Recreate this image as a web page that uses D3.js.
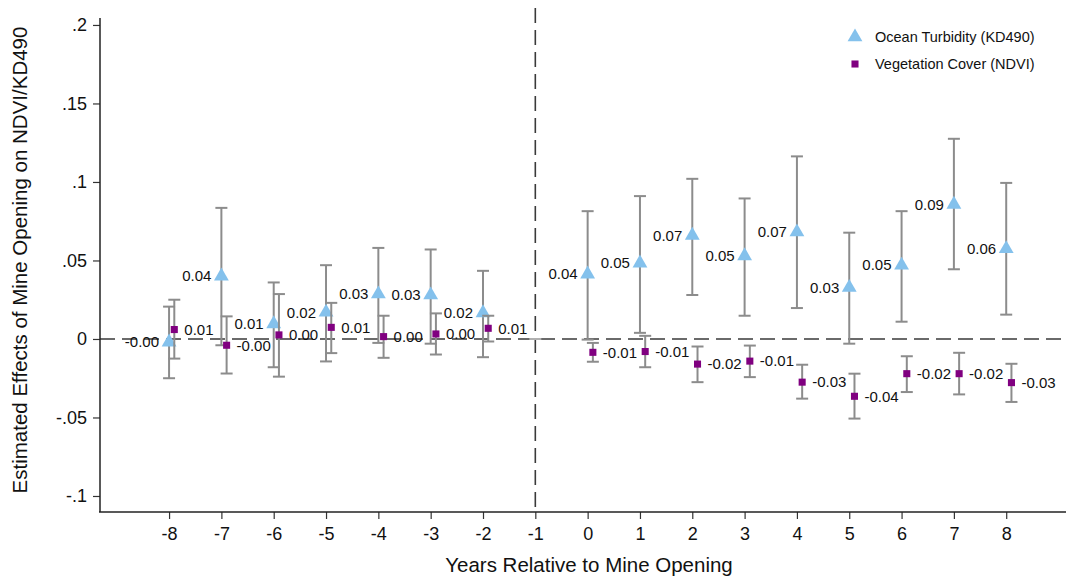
<!DOCTYPE html>
<html>
<head>
<meta charset="UTF-8">
<style>
  body { margin: 0; background: #fff; }
  svg { display: block; font-family: "Liberation Sans", Arial, sans-serif; }
</style>
</head>
<body>
<svg id="chart" width="1066" height="578"></svg>
<script src="https://cdn.jsdelivr.net/npm/d3@7"></script>
<script>
// years shown on the axis, and the ones that carry an estimate (-1 is the base year)
const xTicks = [-8, -7, -6, -5, -4, -3, -2, -1, 0, 1, 2, 3, 4, 5, 6, 7, 8];
const years  = [-8, -7, -6, -5, -4, -3, -2, 0, 1, 2, 3, 4, 5, 6, 7, 8];
const baseYear = -1;

// Ocean Turbidity (KD490)
const kdEst = [-0.002, 0.040, 0.0096, 0.017, 0.0286, 0.028, 0.0166, 0.0413, 0.0483, 0.066, 0.0529, 0.0681, 0.0328, 0.047, 0.0857, 0.0575];
const kdLo  = [-0.025, -0.004, -0.018, -0.0143, -0.0025, -0.003, -0.0116, -0.0004, 0.0039, 0.028, 0.0148, 0.0197, -0.003, 0.011, 0.0444, 0.0155];
const kdHi  = [0.0206, 0.0835, 0.036, 0.047, 0.058, 0.057, 0.0434, 0.0814, 0.091, 0.102, 0.0895, 0.1163, 0.0677, 0.0814, 0.1275, 0.0994];

// Vegetation Cover (NDVI)
const ndEst = [0.006, -0.004, 0.0026, 0.0074, 0.0015, 0.0032, 0.0068, -0.0085, -0.008, -0.016, -0.0141, -0.0275, -0.0365, -0.0221, -0.0221, -0.0278];
const ndLo  = [-0.0125, -0.022, -0.024, -0.009, -0.012, -0.0099, -0.0016, -0.0145, -0.018, -0.0275, -0.0243, -0.038, -0.0507, -0.0338, -0.0353, -0.0401];
const ndHi  = [0.025, 0.0144, 0.0286, 0.023, 0.0148, 0.0163, 0.0148, -0.0025, 0.002, -0.0048, -0.0042, -0.0164, -0.0221, -0.011, -0.0088, -0.0158];

const yTicks = [-0.1, -0.05, 0, 0.05, 0.1, 0.15, 0.2];
const yTickLabels = ["-.1", "-.05", "0", ".05", ".1", ".15", ".2"];

const legendNames = ["Ocean Turbidity (KD490)", "Vegetation Cover (NDVI)"];

const blue = "#84c1ec", purple = "#800080", barGrey = "#8c8c8c", lineGrey = "#3a3a3a";

const svg = d3.select("#chart");
const plotL = 100, plotR = 1069, plotT = 8, plotB = 512;

const x = d3.scaleLinear().domain([-9.32, 9.2]).range([plotL, plotR]);
const y = d3.scaleLinear().domain([-0.1102, 0.2108]).range([plotB, plotT]);

// reference lines
svg.append("line")
  .attr("x1", plotL).attr("x2", 1066)
  .attr("y1", y(0)).attr("y2", y(0))
  .attr("stroke", lineGrey).attr("stroke-width", 1.6)
  .attr("stroke-dasharray", "15,7");
svg.append("line")
  .attr("x1", x(baseYear)).attr("x2", x(baseYear))
  .attr("y1", plotT).attr("y2", plotB)
  .attr("stroke", lineGrey).attr("stroke-width", 1.6)
  .attr("stroke-dasharray", "15,7");

// axes
const yAxis = svg.append("g")
  .attr("transform", `translate(${plotL},0)`)
  .call(d3.axisLeft(y).tickValues(yTicks).tickSize(7).tickPadding(6)
    .tickFormat((d, i) => yTickLabels[i]));
yAxis.select(".domain").remove();
yAxis.selectAll(".tick line").attr("stroke", "#333").attr("stroke-width", 1.2);
yAxis.selectAll(".tick text").attr("font-size", 18).attr("fill", "#111")
  .attr("font-family", "Liberation Sans, Arial, sans-serif");
svg.append("line").attr("x1", plotL).attr("x2", plotL).attr("y1", 18).attr("y2", plotB)
  .attr("stroke", "#222").attr("stroke-width", 1.5);

const xAxis = svg.append("g")
  .attr("transform", `translate(0,${plotB})`)
  .call(d3.axisBottom(x).tickValues(xTicks).tickSize(7).tickPadding(8).tickFormat(d => String(d)));
xAxis.select(".domain").remove();
xAxis.selectAll(".tick line").attr("stroke", "#333").attr("stroke-width", 1.2);
xAxis.selectAll(".tick text").attr("font-size", 18).attr("fill", "#111")
  .attr("font-family", "Liberation Sans, Arial, sans-serif");
svg.append("line").attr("x1", plotL - 1).attr("x2", 1066).attr("y1", plotB).attr("y2", plotB)
  .attr("stroke", "#222").attr("stroke-width", 1.5);

// axis titles
svg.append("text")
  .attr("x", 589).attr("y", 572)
  .attr("text-anchor", "middle").attr("font-size", 20.5).attr("fill", "#111")
  .text("Years Relative to Mine Opening");
svg.append("text")
  .attr("transform", "translate(27,260) rotate(-90)")
  .attr("text-anchor", "middle").attr("font-size", 20.5).attr("fill", "#111")
  .text("Estimated Effects of Mine Opening on NDVI/KD490");

// series
const series = [
  { est: kdEst, lo: kdLo, hi: kdHi, off: 0, color: blue, shape: d3.symbolTriangle, size: 95, side: -1 },
  { est: ndEst, lo: ndLo, hi: ndHi, off: 0.1, color: purple, shape: d3.symbolSquare, size: 50, side: 1 }
];

// base-year cap at zero
svg.append("line")
  .attr("x1", x(baseYear) - 6).attr("x2", x(baseYear) + 6)
  .attr("y1", y(0)).attr("y2", y(0))
  .attr("stroke", "#b0b0b0").attr("stroke-width", 2);

series.forEach(s => {
  const g = svg.append("g");
  const rows = years.map((yr, i) => ({ x: x(yr + s.off), est: s.est[i], lo: s.lo[i], hi: s.hi[i] }));
  g.selectAll(".bar").data(rows).join("line")
    .attr("x1", d => d.x).attr("x2", d => d.x)
    .attr("y1", d => y(d.lo)).attr("y2", d => y(d.hi))
    .attr("stroke", barGrey).attr("stroke-width", 2);
  ["lo", "hi"].forEach(k => {
    g.selectAll(".cap-" + k).data(rows).join("line")
      .attr("x1", d => d.x - 6).attr("x2", d => d.x + 6)
      .attr("y1", d => y(d[k])).attr("y2", d => y(d[k]))
      .attr("stroke", barGrey).attr("stroke-width", 2);
  });
  g.selectAll(".mark").data(rows).join("path")
    .attr("transform", d => `translate(${d.x},${y(d.est)})`)
    .attr("d", d3.symbol().type(s.shape).size(s.size))
    .attr("fill", s.color);
  g.selectAll(".lab").data(rows).join("text")
    .attr("x", d => d.x + s.side * 10)
    .attr("y", d => y(d.est))
    .attr("dy", "0.35em")
    .attr("text-anchor", s.side < 0 ? "end" : "start")
    .attr("font-size", 15).attr("fill", "#111")
    .text(d => d.est.toFixed(2));
});

// legend
const legend = svg.append("g");
series.forEach((s, i) => {
  const ly = 37 + i * 27;
  legend.append("path")
    .attr("transform", `translate(855,${ly})`)
    .attr("d", d3.symbol().type(s.shape).size(s.size))
    .attr("fill", s.color);
  legend.append("text")
    .attr("x", 875).attr("y", ly).attr("dy", "0.35em")
    .attr("font-size", 14.5).attr("fill", "#111")
    .text(legendNames[i]);
});
</script>
</body>
</html>
